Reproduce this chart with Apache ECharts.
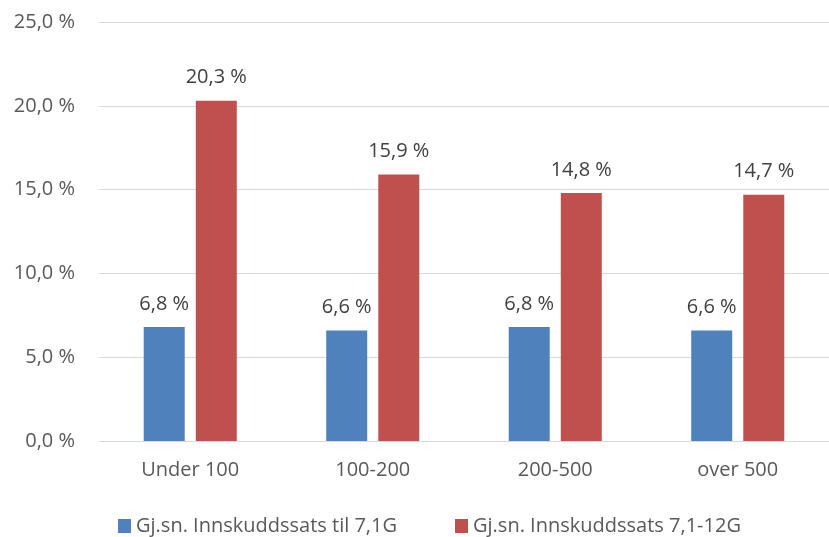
<!DOCTYPE html>
<html>
<head>
<meta charset="utf-8">
<script src="https://cdn.jsdelivr.net/npm/echarts@6/dist/echarts.min.js"></script>
<style>
  html, body { margin: 0; padding: 0; background: #fff; }
  #chart { width: 829px; height: 537px; }
</style>
</head>
<body>
<div id="chart"></div>
<script>
// kategorier og verdier
var categories = ['Under 100', '100-200', '200-500', 'over 500'];
var seriesNames = ['Gj.sn. Innskuddssats til 7,1G', 'Gj.sn. Innskuddssats 7,1-12G'];
var lowRate = [6.8, 6.6, 6.8, 6.6];
var highRate = [20.3, 15.9, 14.8, 14.7];

var fontFamily = '"Open Sans", "Noto Sans", sans-serif';
var textColor = '#595959';

function pct(v) {
     return v.toFixed(1).replace('.', ',') + ' %';
}

var chart = echarts.init(document.getElementById('chart'));

var labelStyle = {
     show: true,
     position: 'top',
     distance: 13,
     fontSize: 20,
     fontFamily: fontFamily,
     color: '#404040',
     formatter: function (p) { return pct(p.value); }
};

var option = {
     animation: false,
     textStyle: { fontFamily: fontFamily },
     grid: {
          left: 99,
          right: -2,
          top: 22,
          bottom: 96,
          containLabel: false
     },
     legend: {
          top: 511,
          left: 113,
          itemWidth: 13,
          itemHeight: 14,
          itemGap: 58,
          icon: 'rect',
          textStyle: { fontSize: 20, color: textColor, fontFamily: fontFamily },
          data: seriesNames
     },
     xAxis: {
          type: 'category',
          data: categories,
          axisLine: { lineStyle: { color: '#d9d9d9', width: 1 } },
          axisTick: { show: false },
          axisLabel: { fontSize: 20, color: textColor, margin: 19 }
     },
     yAxis: {
          type: 'value',
          min: 0,
          max: 25,
          interval: 5,
          axisLine: { show: false },
          axisTick: { show: false },
          splitLine: { lineStyle: { color: '#d9d9d9', width: 1 } },
          axisLabel: {
               fontSize: 20,
               color: textColor,
               margin: 24,
               formatter: function (v) { return pct(v); }
          }
     },
     series: [{
          name: seriesNames[0],
          type: 'bar',
          data: lowRate,
          barWidth: 41,
          barGap: '27%',
          itemStyle: { color: '#4f81bd' },
          label: labelStyle
     }, {
          name: seriesNames[1],
          type: 'bar',
          data: highRate,
          barWidth: 41,
          barGap: '27%',
          itemStyle: { color: '#c0504d' },
          label: labelStyle
     }]
};

chart.setOption(option);
</script>
</body>
</html>
